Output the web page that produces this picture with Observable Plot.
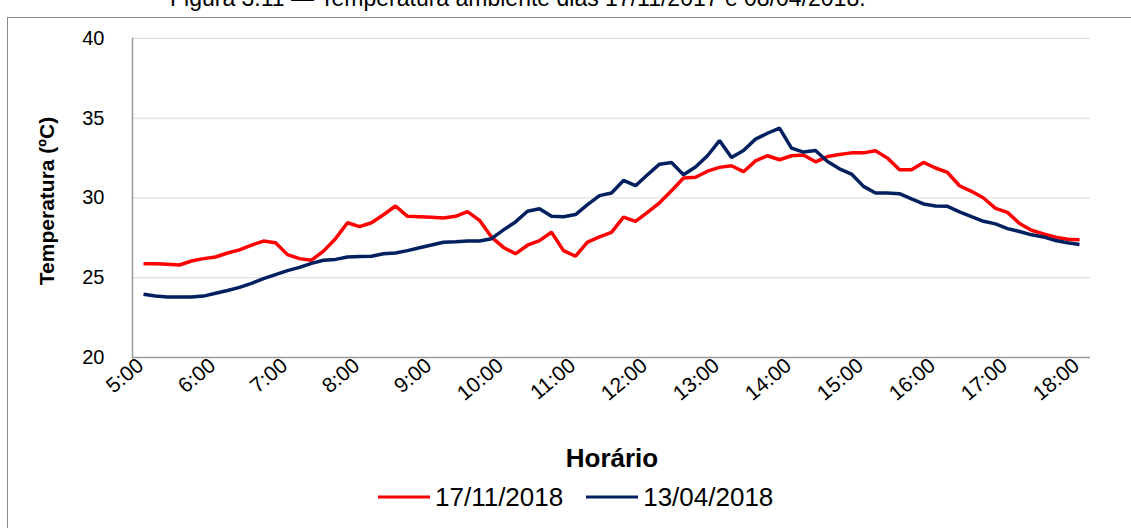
<!DOCTYPE html>
<html>
<head>
<meta charset="utf-8">
<script src="https://cdn.jsdelivr.net/npm/d3@7"></script>
<script src="https://cdn.jsdelivr.net/npm/@observablehq/plot@0.6"></script>
<style>
  html, body { margin: 0; padding: 0; background: #fff; overflow: hidden; }
  #wrap { position: relative; width: 1131px; height: 528px; overflow: hidden; font-family: "Liberation Sans", Arial, sans-serif; }
  #border { position: absolute; left: 7px; top: 17px; width: 1200px; height: 600px; border: 1.5px solid #8c8c8c; box-sizing: border-box; }
  #fig { position: absolute; left: 170px; top: -15px; font-size: 23px; line-height: 26px; color: #000; white-space: nowrap; }
  #chart { position: absolute; left: 0; top: 0; }
  #ylab { position: absolute; left: 47px; top: 201px; transform: translate(-50%, -50%) rotate(-90deg); font-weight: bold; font-size: 21px; white-space: nowrap; }
  #xlab { position: absolute; left: 612px; top: 458px; transform: translate(-50%, -50%); font-weight: bold; font-size: 26px; }
  #legend { position: absolute; left: 378px; top: 497px; transform: translateY(-50%); display: flex; align-items: center; font-size: 26px; }
  .sw { display: inline-block; width: 52px; height: 3.5px; margin-right: 5px; }
  .item { display: flex; align-items: center; margin-right: 23px; }
</style>
</head>
<body>
<div id="wrap">
  <div id="border"></div>
  <div id="fig">Figura 3.11 — Temperatura ambiente dias 17/11/2017 e 08/04/2018.</div>
  <div id="chart"></div>
  <div id="ylab">Temperatura (ºC)</div>
  <div id="xlab">Horário</div>
  <div id="legend"></div>
</div>
<script>
const times = [
  "5:00","5:10","5:20","5:30","5:40","5:50",
  "6:00","6:10","6:20","6:30","6:40","6:50",
  "7:00","7:10","7:20","7:30","7:40","7:50",
  "8:00","8:10","8:20","8:30","8:40","8:50",
  "9:00","9:10","9:20","9:30","9:40","9:50",
  "10:00","10:10","10:20","10:30","10:40","10:50",
  "11:00","11:10","11:20","11:30","11:40","11:50",
  "12:00","12:10","12:20","12:30","12:40","12:50",
  "13:00","13:10","13:20","13:30","13:40","13:50",
  "14:00","14:10","14:20","14:30","14:40","14:50",
  "15:00","15:10","15:20","15:30","15:40","15:50",
  "16:00","16:10","16:20","16:30","16:40","16:50",
  "17:00","17:10","17:20","17:30","17:40","17:50",
  "18:00"
];
const hourTicks = ["5:00","6:00","7:00","8:00","9:00","10:00","11:00","12:00","13:00","14:00","15:00","16:00","17:00","18:00"];
const seriesNames = ["17/11/2018", "13/04/2018"];
const seriesColors = ["#ff0000", "#002060"];

const nov17 = [
  25.88,25.88,25.85,25.80,26.05,26.20,26.30,26.55,26.75,27.05,
  27.30,27.20,26.45,26.20,26.10,26.67,27.45,28.45,28.20,28.45,
  28.95,29.50,28.85,28.83,28.80,28.75,28.85,29.15,28.60,27.55,
  26.90,26.50,27.04,27.33,27.85,26.70,26.35,27.23,27.56,27.85,
  28.80,28.54,29.10,29.70,30.45,31.25,31.30,31.68,31.92,32.02,
  31.65,32.33,32.65,32.40,32.65,32.70,32.27,32.60,32.73,32.83,
  32.83,32.96,32.50,31.77,31.77,32.23,31.88,31.60,30.77,30.42,
  30.00,29.35,29.10,28.40,27.98,27.75,27.54,27.42,27.38
];
const apr13 = [
  23.96,23.85,23.80,23.80,23.80,23.85,24.03,24.20,24.40,24.65,
  24.95,25.20,25.45,25.65,25.90,26.10,26.15,26.30,26.33,26.35,
  26.50,26.55,26.70,26.88,27.05,27.23,27.25,27.30,27.30,27.45,
  28.00,28.50,29.17,29.33,28.85,28.83,28.96,29.58,30.15,30.31,
  31.10,30.77,31.46,32.12,32.23,31.46,31.94,32.65,33.60,32.54,
  32.98,33.69,34.06,34.38,33.13,32.88,32.98,32.29,31.83,31.50,
  30.73,30.31,30.31,30.27,29.94,29.63,29.50,29.48,29.13,28.83,
  28.54,28.38,28.08,27.90,27.69,27.56,27.33,27.19,27.08
];
const yTicks = [20, 25, 30, 35, 40];

const data = [];
times.forEach((t, i) => {
  data.push({time: t, temp: nov17[i], series: seriesNames[0]});
  data.push({time: t, temp: apr13[i], series: seriesNames[1]});
});

const chart = Plot.plot({
  width: 1131,
  height: 528,
  marginLeft: 132,
  marginRight: 41,
  marginTop: 38,
  marginBottom: 171,
  style: {fontFamily: '"Liberation Sans", Arial, sans-serif', background: "transparent", overflow: "visible", color: "#000"},
  x: {type: "point", domain: times, insetLeft: 5, insetRight: 5},
  y: {domain: [20, 40]},
  color: {domain: seriesNames, range: seriesColors},
  marks: [
    Plot.gridY(yTicks.slice(1), {stroke: "#d9d9d9", strokeOpacity: 1, strokeWidth: 1}),
    Plot.frame({anchor: "left", stroke: "#9a9a9a", strokeWidth: 1.5}),
    Plot.ruleY([20], {stroke: "#9a9a9a", strokeWidth: 1.5}),
    Plot.axisY(yTicks, {tickSize: 0, tickPadding: 28, fontSize: 20, label: null}),
    Plot.axisX(hourTicks, {tickSize: 0, tickPadding: 5, tickRotate: -40, fontSize: 21, label: null, dx: -3}),
    Plot.line(data, {x: "time", y: "temp", z: "series", stroke: "series", strokeWidth: 3.5, strokeLinejoin: "miter", strokeLinecap: "butt"})
  ]
});
document.getElementById("chart").appendChild(chart);

const legend = document.getElementById("legend");
seriesNames.forEach((name, i) => {
  const item = document.createElement("div");
  item.className = "item";
  const sw = document.createElement("span");
  sw.className = "sw";
  sw.style.background = seriesColors[i];
  item.appendChild(sw);
  const label = document.createElement("span");
  label.textContent = name;
  item.appendChild(label);
  legend.appendChild(item);
});
</script>
</body>
</html>
